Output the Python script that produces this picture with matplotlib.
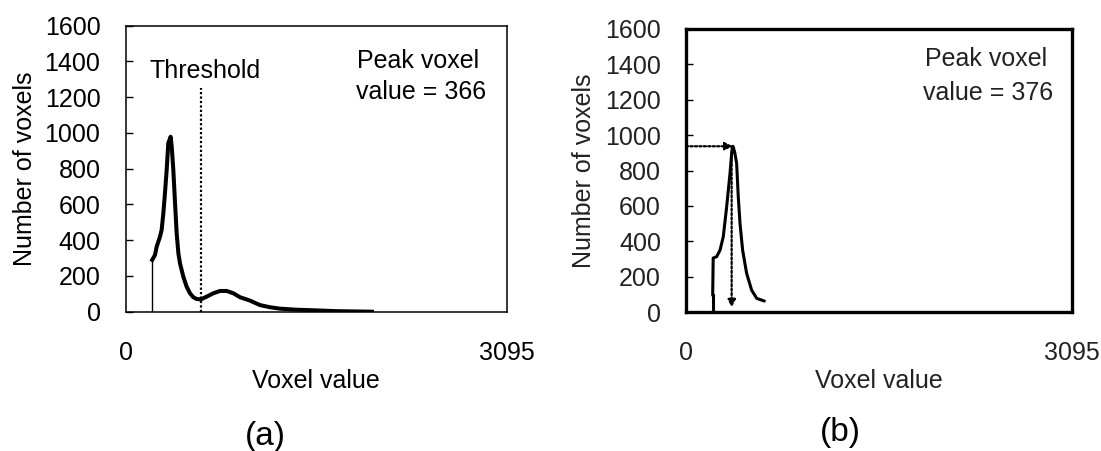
import matplotlib
matplotlib.use("Agg")
import matplotlib.pyplot as plt

plt.rcParams['font.family'] = ['Liberation Sans', 'DejaVu Sans']

# Histogram (a): full voxel-value histogram with a threshold marker
vox_a = [217, 239, 253, 280, 293, 307, 320, 334, 347, 366, 375, 388, 402, 415,
         429, 442, 469, 496, 523, 550, 577, 612, 658, 712, 767, 821, 875, 929,
         1010, 1091, 1172, 1253, 1389, 1524, 1713, 2000]
cnt_a = [290, 317, 364, 420, 457, 550, 662, 793, 942, 979, 923, 793, 606, 439,
         327, 271, 196, 140, 103, 81, 71, 69, 84, 103, 116, 116, 103, 81,
         62, 37, 25, 17, 11, 8, 3, 0]
threshold = 612
threshold_top = 1250
peak_a = 366

# Histogram (b): voxels below the threshold only
vox_b = [214, 218, 246, 273, 299, 326, 353, 366, 376, 390, 406, 419, 433, 454,
         486, 526, 567, 628]
cnt_b = [95, 305, 313, 350, 426, 595, 784, 897, 937, 905, 841, 652, 501, 350,
         219, 124, 77, 62]
peak_b = 376
peak_b_count = 937

x_max = 3095
y_ticks = [0, 200, 400, 600, 800, 1000, 1200, 1400, 1600]
x_ticks = [0, 3095]

FS = 18
W, H = 1101, 451
fig = plt.figure(figsize=(W / 100, H / 100), dpi=100)


def px_axes(left, top, right, bottom):
    return fig.add_axes([left / W, 1 - bottom / H, (right - left) / W, (bottom - top) / H])


def style_axes(ax, spine_w, color):
    ax.set_xlim(0, x_max)
    ax.set_ylim(0, 1600)
    for s in ax.spines.values():
        s.set_linewidth(spine_w)
        s.set_color('black')
    ax.set_yticks(y_ticks)
    ax.set_yticklabels([str(v) for v in y_ticks])
    ax.set_xticks(x_ticks)
    ax.set_xticklabels([str(v) for v in x_ticks])
    ax.tick_params(axis='y', direction='in', length=5, width=1, pad=18,
                   labelsize=FS, labelcolor=color)
    ax.tick_params(axis='x', length=0, pad=21, labelsize=FS, labelcolor=color)
    ax.set_ylabel('Number of voxels', fontsize=FS, color=color)
    ax.yaxis.set_label_coords(-0.232, 0.5)
    ax.set_xlabel('Voxel value', fontsize=FS, color=color, labelpad=3)


# ---- panel (a)
ax_a = px_axes(125.5, 25.7, 507, 311.7)
style_axes(ax_a, 1.1, 'black')
ax_a.vlines(vox_a[0], 0, cnt_a[0], color='black', lw=1.0)
ax_a.plot(vox_a, cnt_a, color='black', lw=2.9, solid_joinstyle='round')
ax_a.plot([threshold, threshold], [0, threshold_top], color='black', lw=1.6,
          ls=(0, (1, 1)))
ax_a.text(0.064, 0.84, 'Threshold', transform=ax_a.transAxes, fontsize=FS,
          ha='left', va='center')
ax_a.text(0.607, 0.878, 'Peak voxel', transform=ax_a.transAxes, fontsize=FS,
          ha='left', va='center')
ax_a.text(0.604, 0.768, f'value = {peak_a}', transform=ax_a.transAxes,
          fontsize=FS, ha='left', va='center')
fig.text(265 / W, 1 - 437 / H, '(a)', fontsize=24, ha='center', va='center')

# ---- panel (b)
ax_b = px_axes(686, 29, 1072, 312)
style_axes(ax_b, 2.4, '#222222')
ax_b.plot([vox_b[0], vox_b[0]], [0, cnt_b[0]], color='black', lw=2.2)
ax_b.plot(vox_b, cnt_b, color='black', lw=2.2, solid_joinstyle='round',
          solid_capstyle='round')
arrow = dict(arrowstyle='-|>,head_length=0.45,head_width=0.22', color='black',
             lw=1.6, ls=(0, (1, 1)), shrinkA=0, shrinkB=0)
ax_b.annotate('', xy=(peak_b, peak_b_count), xytext=(0, peak_b_count),
              arrowprops=arrow)
ax_b.annotate('', xy=(peak_b - 10, 25), xytext=(peak_b - 10, peak_b_count),
              arrowprops=arrow)
ax_b.text(0.619, 0.895, 'Peak voxel', transform=ax_b.transAxes, fontsize=FS,
          ha='left', va='center', color='#222222')
ax_b.text(0.614, 0.774, f'value = {peak_b}', transform=ax_b.transAxes,
          fontsize=FS, ha='left', va='center', color='#222222')
fig.text(840 / W, 1 - 433 / H, '(b)', fontsize=24, ha='center', va='center')

fig.savefig('out.png', dpi=100)
